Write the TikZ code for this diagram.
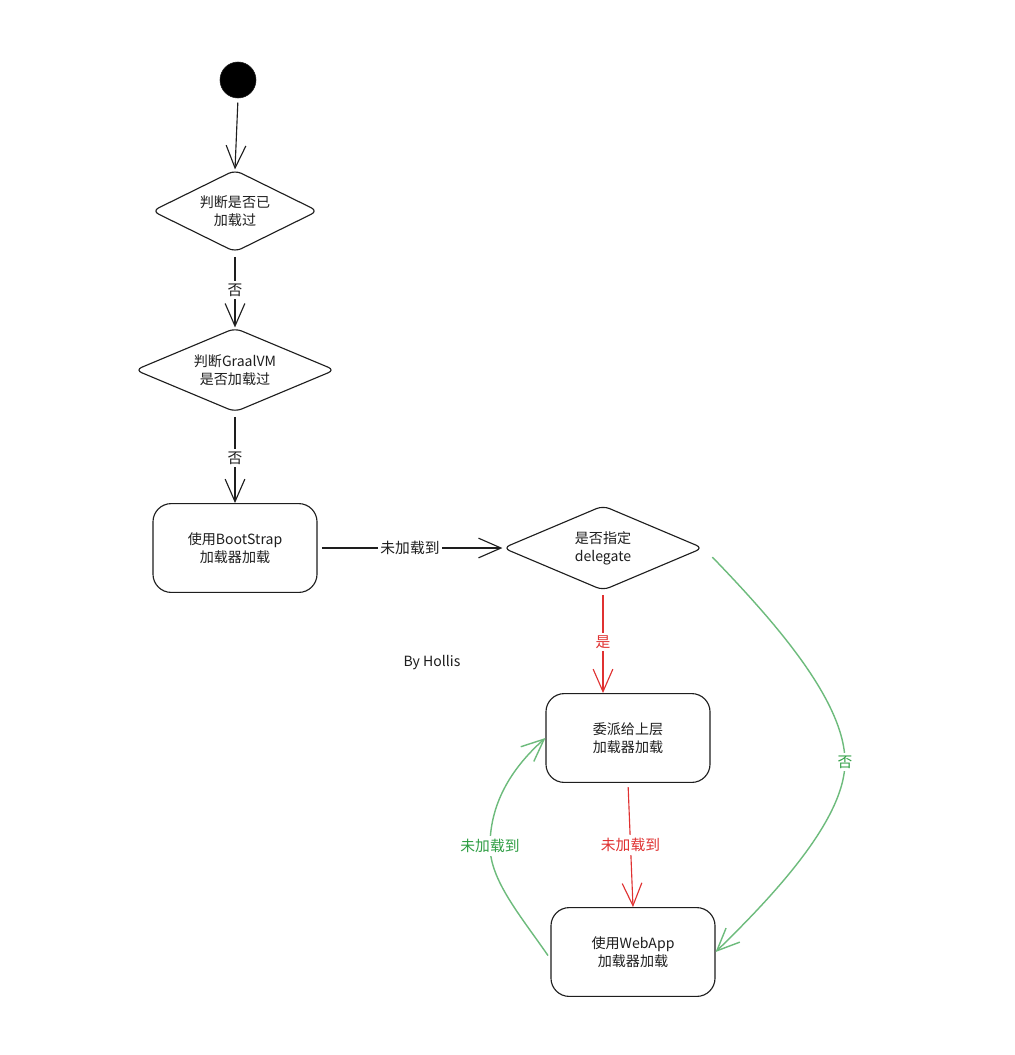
\documentclass[tikz,border=0pt]{standalone}
\usepackage{fontspec}
\setmainfont{Noto Sans CJK SC}
\usepackage{xcolor}
\definecolor{HLink}{HTML}{1E1E1E}
\definecolor{HLred}{HTML}{E03131}
\definecolor{HLgreen}{HTML}{2F9E44}
\usetikzlibrary{arrows.meta, shapes.geometric, positioning}

\begin{document}
\begin{tikzpicture}[x=0.025cm, y=-0.025cm,
    every node/.style={font=\fontsize{10}{13}\selectfont, text=HLink},
    decision/.style={diamond, aspect=2.4, draw=HLink, line width=0.8pt, rounded corners=5pt,
      align=center, inner sep=0pt},
    action/.style={rectangle, draw=HLink, line width=0.8pt, rounded corners=13pt,
      align=center, minimum width=4.1cm, minimum height=2.22cm},
    flow/.style={draw=HLink, line width=0.8pt,
      -{Straight Barb[length=16pt, width=14pt]}, shorten <=3pt},
    edgelabel/.style={fill=white, inner sep=2pt, font=\fontsize{10.5}{13}\selectfont}]
  % class loading flow, coordinates in pixels of the sketch
  \fill[white] (0,0) rectangle (1015,1055);
  \useasboundingbox (0,0) rectangle (1015,1055);

  % start point
  \node[circle, fill=black, draw=HLink, minimum size=0.9cm, inner sep=0pt] (start) at (238,80) {};

  % left column
  \node[decision, minimum width=4.15cm, minimum height=2.05cm] (loaded) at (235,211) {判断是否已\\加载过};
  \node[decision, minimum width=5cm, minimum height=2.1cm] (graal) at (235,370) {判断GraalVM\\是否加载过};
  \node[action] (boot) at (235,548) {使用BootStrap\\加载器加载};

  % right column
  \node[decision, minimum width=5cm, minimum height=2.12cm] (deleg) at (603,548) {是否指定\\delegate};
  \node[action] (parent) at (628,738) {委派给上层\\加载器加载};
  \node[action] (webapp) at (633,952) {使用WebApp\\加载器加载};

  \node (sign) at (432,663) {By Hollis};

  % black flow
  \draw[flow] (start.south) -- (loaded.north);
  \draw[flow] (loaded.south) -- node[edgelabel] (no1) {否} (graal.north);
  \draw[flow] (graal.south) -- node[edgelabel] (no2) {否} (boot.north);
  \draw[flow] (boot.east) -- node[edgelabel] (miss1) {未加载到} (deleg.west);

  % red flow
  \draw[flow, draw=HLred] (deleg.south) -- node[edgelabel, text=HLred] (yes) {是} (deleg.south |- parent.north);
  \draw[flow, draw=HLred] (parent.south) -- node[edgelabel, text=HLred] (miss2) {未加载到} (webapp.north);

  % green flow
  \coordinate (nomid) at (845,762);
  \draw[flow, draw=HLgreen!70, line width=1pt, shorten <=9pt]
    (deleg.east) .. controls (771,618) and (845,700) .. (nomid)
    .. controls (845,820) and (772,897) .. (webapp.east);
  \node[edgelabel, text=HLgreen] (no3) at (nomid) {否};

  \coordinate (retmid) at (490,846);
  \draw[flow, draw=HLgreen!70, line width=1pt]
    ([yshift=-5pt]webapp.west) .. controls (520,915) and (490,880) .. (retmid)
    .. controls (490,800) and (515,765) .. (parent.west);
  \node[edgelabel, text=HLgreen] (miss3) at (retmid) {未加载到};

\end{tikzpicture}
\end{document}
